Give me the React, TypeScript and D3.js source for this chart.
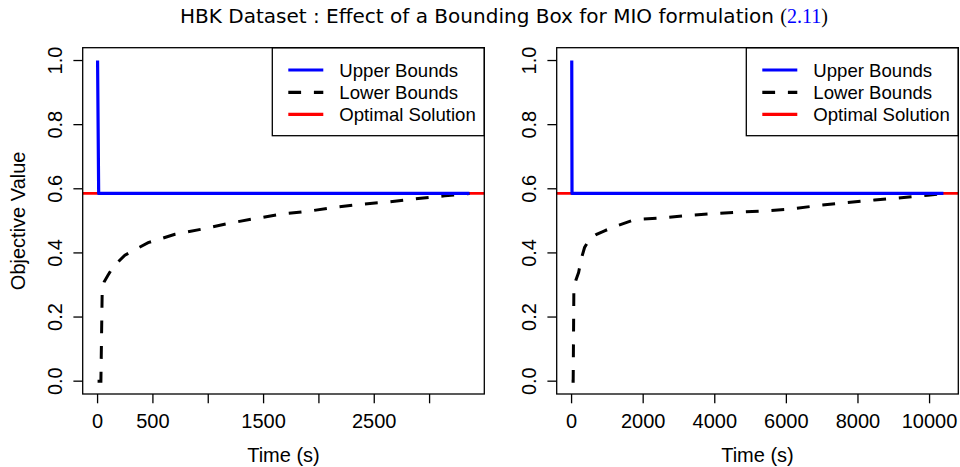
import React from "react";
import * as d3 from "d3";

// ---- data ----
const yTicks = [0, 0.2, 0.4, 0.6, 0.8, 1.0];
const yTickLabels = ["0.0", "0.2", "0.4", "0.6", "0.8", "1.0"];

const leftXTicks = [0, 500, 1000, 1500, 2000, 2500, 3000];
const leftXTickLabels = ["0", "500", "", "1500", "", "2500", ""];
const rightXTicks = [0, 2000, 4000, 6000, 8000, 10000];
const rightXTickLabels = ["0", "2000", "4000", "6000", "8000", "10000"];

const optimalValue = 0.5856;

const leftUpperTime = [0, 10, 3360];
const leftUpperValue = [1.0, 0.5856, 0.5856];
const leftLowerTime = [0, 30, 42, 60, 90, 141, 247, 337, 457, 699, 940, 1180, 1422, 1663, 1903, 2144, 2386, 2626, 2897, 3138, 3360];
const leftLowerValue = [0, 0, 0.287, 0.31, 0.328, 0.357, 0.393, 0.41, 0.432, 0.458, 0.474, 0.492, 0.507, 0.521, 0.53, 0.542, 0.552, 0.559, 0.57, 0.578, 0.5856];

const rightUpperTime = [5, 12, 10387];
const rightUpperValue = [1.0, 0.5856, 0.5856];
const rightLowerTime = [0, 45, 64, 120, 196, 280, 363, 503, 700, 922, 1201, 1665, 1945, 2411, 3156, 3899, 4645, 5391, 6134, 6972, 7718, 8464, 9207, 9952, 10387];
const rightLowerValue = [0, 0, 0.287, 0.315, 0.339, 0.385, 0.417, 0.443, 0.458, 0.469, 0.482, 0.5, 0.505, 0.508, 0.516, 0.522, 0.527, 0.531, 0.537, 0.549, 0.557, 0.565, 0.572, 0.58, 0.5856];

const legendLabels = ["Upper Bounds", "Lower Bounds", "Optimal Solution"];

const titleMain = "HBK Dataset : Effect of a Bounding Box for MIO formulation ";
const titleRef = "2.11";
const xLabel = "Time (s)";
const yLabel = "Objective Value";

// ---- layout ----
const W = 960;
const H = 467;
const TOP = 47.7;
const BOTTOM = 394;
const TICK = 9.3;
const SANS = "'Liberation Sans', Arial, Helvetica, sans-serif";
const BLUE = "#0000ff";
const RED = "#ff0000";
const DASH = "12.8 12.8";

function padDomain(vals: number[]): [number, number] {
  const [mn, mx] = d3.extent(vals) as [number, number];
  const r = mx - mn;
  return [mn - 0.04 * r, mx + 0.04 * r];
}

type PanelProps = {
  id: string;
  left: number;
  right: number;
  xTicks: number[];
  xTickLabels: string[];
  upperT: number[];
  upperV: number[];
  lowerT: number[];
  lowerV: number[];
  showYLabel: boolean;
};

function Panel(p: PanelProps) {
  const allT = [...p.upperT, ...p.lowerT];
  const x = d3.scaleLinear().domain(padDomain(allT)).range([p.left, p.right]);
  const y = d3.scaleLinear().domain([-0.04, 1.04]).range([BOTTOM, TOP]);
  const line = d3
    .line<[number, number]>()
    .x((d) => x(d[0]))
    .y((d) => y(d[1]));
  const upper = line(p.upperT.map((t, i) => [t, p.upperV[i]] as [number, number])) || "";
  const lower = line(p.lowerT.map((t, i) => [t, p.lowerV[i]] as [number, number])) || "";
  const clip = `clip-${p.id}`;
  const legW = 212;
  const legL = p.right - legW;
  const legRows = [70, 92.3, 114.3];
  const legStyles = [
    { stroke: BLUE, dash: undefined as string | undefined },
    { stroke: "#000", dash: DASH },
    { stroke: RED, dash: undefined as string | undefined },
  ];
  return (
    <g>
      <defs>
        <clipPath id={clip}>
          <rect x={p.left} y={TOP} width={p.right - p.left} height={BOTTOM - TOP} />
        </clipPath>
      </defs>
      <g clipPath={`url(#${clip})`}>
        <line x1={p.left} x2={p.right} y1={y(optimalValue)} y2={y(optimalValue)} stroke={RED} strokeWidth={2.6} />
        <path d={lower} fill="none" stroke="#000" strokeWidth={3} strokeDasharray={DASH} />
        <path d={upper} fill="none" stroke={BLUE} strokeWidth={3.2} strokeLinejoin="round" />
      </g>
      {/* legend */}
      <rect x={legL} y={TOP} width={legW} height={88} fill="white" stroke="#000" strokeWidth={1.3} />
      {legendLabels.map((lab, i) => (
        <g key={lab}>
          <line
            x1={legL + 16}
            x2={legL + 51}
            y1={legRows[i]}
            y2={legRows[i]}
            stroke={legStyles[i].stroke}
            strokeWidth={3.2}
            strokeDasharray={legStyles[i].dash}
          />
          <text x={legL + 67} y={legRows[i] + 6.7} fontFamily={SANS} fontSize={18.6}>
            {lab}
          </text>
        </g>
      ))}
      {/* box */}
      <rect x={p.left} y={TOP} width={p.right - p.left} height={BOTTOM - TOP} fill="none" stroke="#000" strokeWidth={1.3} />
      {/* x axis */}
      {p.xTicks.map((t, i) => (
        <g key={`xt${t}`}>
          <line x1={x(t)} x2={x(t)} y1={BOTTOM} y2={BOTTOM + TICK} stroke="#000" strokeWidth={1.3} />
          <text x={x(t)} y={428.3} textAnchor="middle" fontFamily={SANS} fontSize={20}>
            {p.xTickLabels[i]}
          </text>
        </g>
      ))}
      {/* y axis */}
      {yTicks.map((v, i) => (
        <g key={`yt${v}`}>
          <line x1={p.left - TICK} x2={p.left} y1={y(v)} y2={y(v)} stroke="#000" strokeWidth={1.3} />
          <text
            transform={`translate(${p.left - 21},${y(v)}) rotate(-90)`}
            textAnchor="middle"
            fontFamily={SANS}
            fontSize={20}
          >
            {yTickLabels[i]}
          </text>
        </g>
      ))}
      <text x={(p.left + p.right) / 2} y={462} textAnchor="middle" fontFamily={SANS} fontSize={20}>
        {xLabel}
      </text>
      {p.showYLabel && (
        <text
          transform={`translate(25,${(TOP + BOTTOM) / 2}) rotate(-90)`}
          textAnchor="middle"
          fontFamily={SANS}
          fontSize={20}
        >
          {yLabel}
        </text>
      )}
    </g>
  );
}

export default function App() {
  return (
    <svg
      width={W}
      height={H}
      viewBox={`0 0 ${W} ${H}`}
      style={{ position: "absolute", left: 0, top: 0, background: "white" }}
    >
      <rect x={0} y={0} width={W} height={H} fill="white" />
      <text
        x={504}
        y={22.7}
        textAnchor="middle"
        fontSize={20}
        textLength={648}
        lengthAdjust="spacingAndGlyphs"
      >
        <tspan fontFamily="'DejaVu Sans', 'Open Sans', sans-serif">{titleMain}</tspan>
        <tspan fontFamily="'Liberation Serif', 'DejaVu Serif', serif">(</tspan>
        <tspan fontFamily="'Liberation Serif', 'DejaVu Serif', serif" fill={BLUE}>
          {titleRef}
        </tspan>
        <tspan fontFamily="'Liberation Serif', 'DejaVu Serif', serif">)</tspan>
      </text>
      <Panel
        id="left"
        left={82.7}
        right={484.3}
        xTicks={leftXTicks}
        xTickLabels={leftXTickLabels}
        upperT={leftUpperTime}
        upperV={leftUpperValue}
        lowerT={leftLowerTime}
        lowerV={leftLowerValue}
        showYLabel={true}
      />
      <Panel
        id="right"
        left={556.7}
        right={958.3}
        xTicks={rightXTicks}
        xTickLabels={rightXTickLabels}
        upperT={rightUpperTime}
        upperV={rightUpperValue}
        lowerT={rightLowerTime}
        lowerV={rightLowerValue}
        showYLabel={false}
      />
    </svg>
  );
}
